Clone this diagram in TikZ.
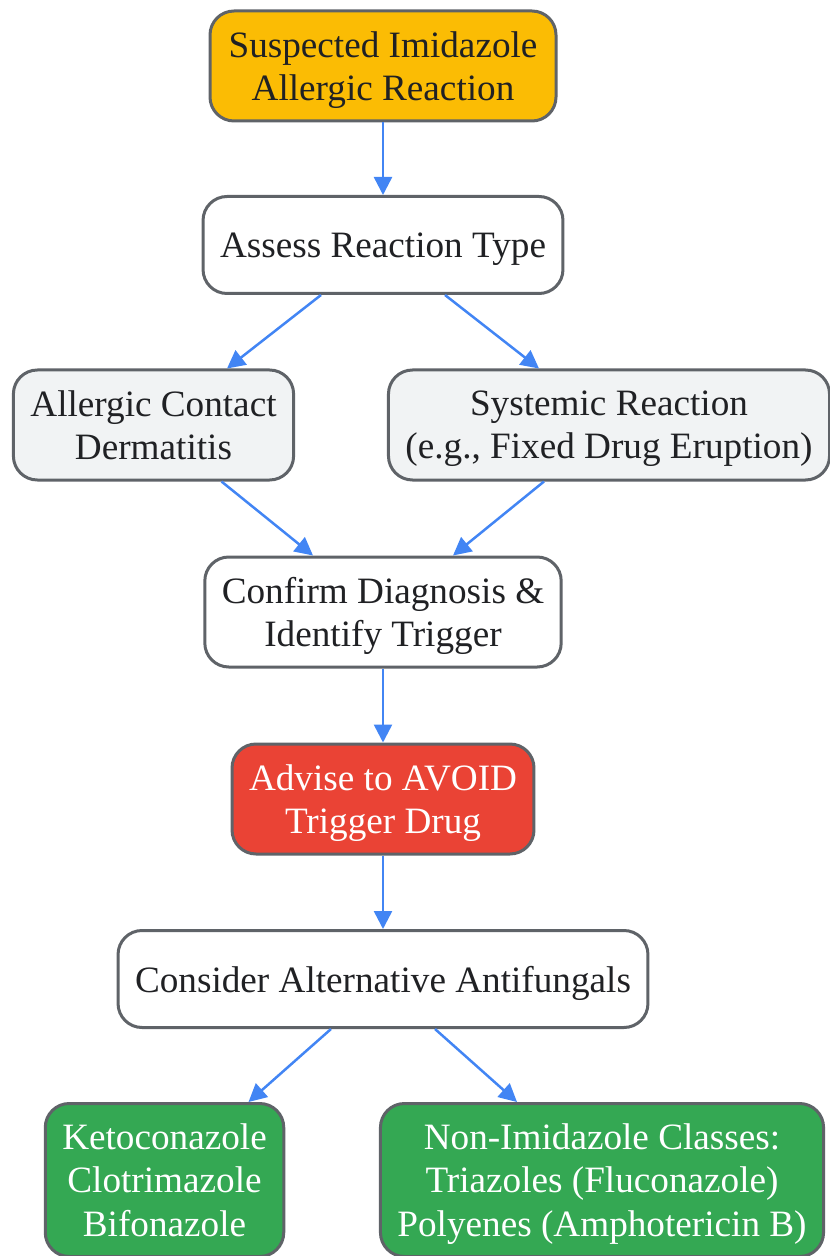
\documentclass[tikz,border=0pt]{standalone}
\usepackage{fontspec}
\setmainfont{Liberation Serif}
\usetikzlibrary{arrows.meta, positioning}
\definecolor{boxline}{HTML}{5F6368}
\definecolor{inktext}{HTML}{202124}
\definecolor{linkblue}{HTML}{4285F4}
\definecolor{startfill}{HTML}{FBBC04}
\definecolor{typefill}{HTML}{F1F3F4}
\definecolor{avoidfill}{HTML}{EA4335}
\definecolor{altfill}{HTML}{34A853}

\begin{document}
\begin{tikzpicture}[
    on grid,
    every node/.style={font=\fontsize{18.6pt}{21.6pt}\selectfont, text=inktext},
    flow/.style={draw=boxline, line width=1.5pt, rounded corners=12pt, align=center,
                 inner xsep=8.5pt, inner ysep=0pt, text depth=0pt, minimum height=48.5pt},
    twoline/.style={minimum height=55pt},
    threeline/.style={minimum height=76.5pt},
    link/.style={draw=linkblue, line width=1.25pt, -{Triangle[length=9pt, width=9pt]}}
]

   \useasboundingbox (0,0) rectangle (414.5pt,-628pt);

   % Nodes
   \node[flow, twoline, fill=startfill, minimum width=173pt] (suspect) at (191.5pt,-33pt) {Suspected Imidazole\\Allergic Reaction};
   \node[flow, fill=white] (assess) [below=89.5pt of suspect] {Assess Reaction Type};
   \node[flow, twoline, fill=typefill] (contact) [below left=90pt and 114.75pt of assess] {Allergic Contact\\Dermatitis};
   \node[flow, twoline, fill=typefill] (systemic) [below right=90pt and 113pt of assess] {Systemic Reaction\\(e.g., Fixed Drug Eruption)};
   \node[flow, twoline, fill=white] (confirm) [below=183.5pt of assess] {Confirm Diagnosis \&\\Identify Trigger};
   \node[flow, twoline, fill=avoidfill, text=white] (avoid) [below=93.5pt of confirm] {Advise to AVOID\\Trigger Drug};
   \node[flow, fill=white] (consider) [below=90pt of avoid] {Consider Alternative Antifungals};
   \node[flow, threeline, fill=altfill, text=white] (azoles) [below left=100.5pt and 109.25pt of consider] {Ketoconazole\\Clotrimazole\\Bifonazole};
   \node[flow, threeline, fill=altfill, text=white] (nonimid) [below right=100.5pt and 109.5pt of consider] {Non-Imidazole Classes:\\Triazoles (Fluconazole)\\Polyenes (Amphotericin B)};

   % Connectors
   \draw[link] (suspect.south) -- (assess.north);
   \draw[link] ([xshift=-31pt]assess.south) -- ([xshift=36.75pt]contact.north);
   \draw[link] ([xshift=31pt]assess.south) -- ([xshift=-35pt]systemic.north);
   \draw[link] ([xshift=34pt]contact.south) -- ([xshift=-35pt]confirm.north);
   \draw[link] ([xshift=-32.5pt]systemic.south) -- ([xshift=35pt]confirm.north);
   \draw[link] (confirm.south) -- (avoid.north);
   \draw[link] (avoid.south) -- (consider.north);
   \draw[link] ([xshift=-26pt]consider.south) -- ([xshift=42pt]azoles.north);
   \draw[link] ([xshift=26pt]consider.south) -- ([xshift=-42.5pt]nonimid.north);

\end{tikzpicture}
\end{document}
